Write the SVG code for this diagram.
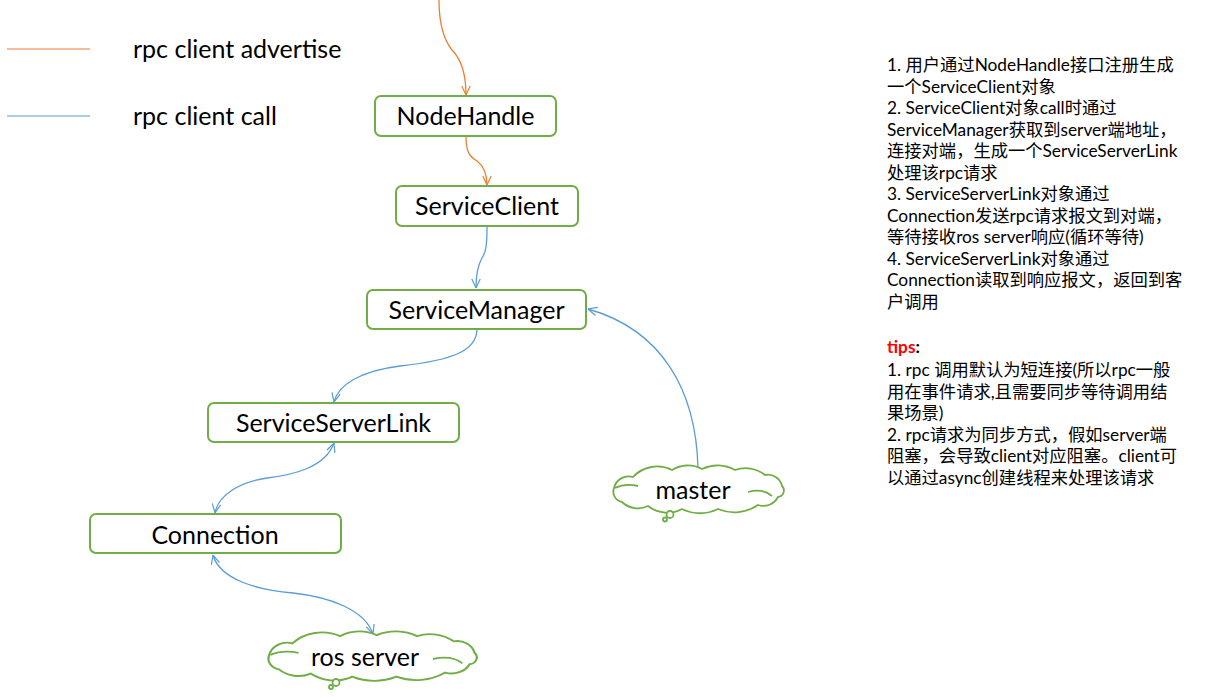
<svg xmlns="http://www.w3.org/2000/svg" width="1217" height="697" viewBox="0 0 1217 697">
<style>
.box{fill:#fff;stroke:#70AD47;stroke-width:2}
.cloud{fill:#fff;stroke:#70AD47;stroke-width:1.8;vector-effect:non-scaling-stroke}
.inner{fill:none;stroke:#70AD47;stroke-width:1.8;vector-effect:non-scaling-stroke}
.bub{fill:#fff;stroke:#70AD47;stroke-width:1.8}
.lbl{font-family:Lato,"Liberation Sans",sans-serif;font-size:25px;fill:#000;text-anchor:middle}
.leg{font-family:Lato,"Liberation Sans",sans-serif;font-size:25px;fill:#000}
.note{font-family:Lato,"Noto Sans CJK SC",sans-serif;font-size:17.3px;fill:#000}
.blue{fill:none;stroke:#5B9BD5;stroke-width:1.3}
.orange{fill:none;stroke:#ED7D31;stroke-width:1.3}
</style>
<defs>
<marker id="ab" viewBox="0 0 10 10" refX="10" refY="5" markerWidth="10" markerHeight="10" orient="auto-start-reverse" markerUnits="userSpaceOnUse">
<path d="M1,0.8 L10,5 L1,9.2" fill="none" stroke="#5B9BD5" stroke-width="1.2"/>
</marker>
<marker id="ao" viewBox="0 0 10 10" refX="10" refY="5" markerWidth="10" markerHeight="10" orient="auto-start-reverse" markerUnits="userSpaceOnUse">
<path d="M1,0.8 L10,5 L1,9.2" fill="none" stroke="#ED7D31" stroke-width="1.2"/>
</marker>
<path id="cloudShape" d="M1,21 A15,15 0 0 1 20,10 A33,33 0 0 1 59,3 A30,30 0 0 1 89,2 A36,36 0 0 1 122,3 A31,31 0 0 1 152,8 A14.5,14.5 0 0 1 169,19 A6.5,6.5 0 0 1 165,30 A16.5,16.5 0 0 1 145,38 A42,42 0 0 1 105,42 A42,42 0 0 1 69,42 A31,31 0 0 1 35,39 A23,23 0 0 1 9,35 A10.6,10.6 0 0 1 1,21 Z"/>
</defs>

<g id="legend">
<line x1="7" y1="49" x2="90" y2="49" stroke="#ED7D31" stroke-width="1.2"/>
<text class="leg" x="133" y="58">rpc client advertise</text>
<line x1="7" y1="116" x2="90" y2="116" stroke="#5B9BD5" stroke-width="1.2"/>
<text class="leg" x="133" y="125">rpc client call</text>
</g>

<g id="connectors">
<path class="orange" d="M439,0 C439,25 444,40 452,50 C460,58 466,70 466,95" marker-end="url(#ao)"/>
<path class="orange" d="M466,137 C466,152 470,157 477,161 C485,167 487,175 487,185" marker-end="url(#ao)"/>
<path class="blue" d="M487,227 C487,245 486,252 482,258 C478,265 476,275 476,288" marker-end="url(#ab)"/>
<path class="blue" d="M477,330 C476,350 455,360 400,366 C360,371 338,385 334,402" marker-end="url(#ab)"/>
<path class="blue" d="M334,443 C325,468 292,475 267,478 C240,482 218,495 215,513" marker-start="url(#ab)" marker-end="url(#ab)"/>
<path class="blue" d="M213,555 C220,580 258,590 293,593 C330,597 365,610 373,634" marker-start="url(#ab)" marker-end="url(#ab)"/>
<path class="blue" d="M698,468 C696,390 662,330 588,309" marker-end="url(#ab)"/>
</g>

<g id="NodeHandle">
<rect class="box" x="375" y="96" width="181" height="40" rx="6"/>
<text class="lbl" x="465.5" y="125">NodeHandle</text>
</g>
<g id="ServiceClient">
<rect class="box" x="396" y="186" width="182" height="40" rx="6"/>
<text class="lbl" x="487" y="215">ServiceClient</text>
</g>
<g id="ServiceManager">
<rect class="box" x="367" y="290" width="219" height="39" rx="6"/>
<text class="lbl" x="476.5" y="319">ServiceManager</text>
</g>
<g id="ServiceServerLink">
<rect class="box" x="208" y="403" width="251" height="39" rx="6"/>
<text class="lbl" x="333.5" y="432">ServiceServerLink</text>
</g>
<g id="Connection">
<rect class="box" x="90" y="514" width="251" height="39" rx="6"/>
<text class="lbl" x="215" y="544">Connection</text>
</g>

<g id="master">
<g transform="translate(613,467)">
<use href="#cloudShape" class="cloud"/>
<path class="inner" d="M2,21 Q12,16 25,19"/>
<path class="inner" d="M135,25 Q150,21 159,29"/>
</g>
<circle class="bub" cx="670" cy="514.5" r="3.5"/>
<circle class="bub" cx="665" cy="519.5" r="2"/>
<text class="lbl" x="693" y="499">master</text>
</g>

<g id="ros_server">
<g transform="translate(268,633) scale(1.222,1.04)">
<use href="#cloudShape" class="cloud"/>
<path class="inner" d="M2,21 Q12,16 25,19"/>
<path class="inner" d="M135,25 Q150,21 159,29"/>
</g>
<circle class="bub" cx="336" cy="682.5" r="3.5"/>
<circle class="bub" cx="331" cy="687" r="2"/>
<text class="lbl" x="365" y="666">ros server</text>
</g>

<g id="notes">
<text class="note" x="887" y="71">1. 用户通过NodeHandle接口注册生成</text>
<text class="note" x="887" y="92.5">一个ServiceClient对象</text>
<text class="note" x="887" y="114">2. ServiceClient对象call时通过</text>
<text class="note" x="887" y="135.5">ServiceManager获取到server端地址，</text>
<text class="note" x="887" y="157">连接对端，生成一个ServiceServerLink</text>
<text class="note" x="887" y="178.5">处理该rpc请求</text>
<text class="note" x="887" y="200">3. ServiceServerLink对象通过</text>
<text class="note" x="887" y="221.5">Connection发送rpc请求报文到对端，</text>
<text class="note" x="887" y="243">等待接收ros server响应(循环等待)</text>
<text class="note" x="887" y="264.5">4. ServiceServerLink对象通过</text>
<text class="note" x="887" y="286">Connection读取到响应报文，返回到客</text>
<text class="note" x="887" y="307.5">户调用</text>
<text class="note" x="887" y="353" font-weight="bold"><tspan fill="#FF0000">tips</tspan>:</text>
<text class="note" x="887" y="376">1. rpc 调用默认为短连接(所以rpc一般</text>
<text class="note" x="887" y="397.5">用在事件请求,且需要同步等待调用结</text>
<text class="note" x="887" y="419">果场景)</text>
<text class="note" x="887" y="440.5">2. rpc请求为同步方式，假如server端</text>
<text class="note" x="887" y="462">阻塞，会导致client对应阻塞。client可</text>
<text class="note" x="887" y="483.5">以通过async创建线程来处理该请求</text>
</g>
</svg>
